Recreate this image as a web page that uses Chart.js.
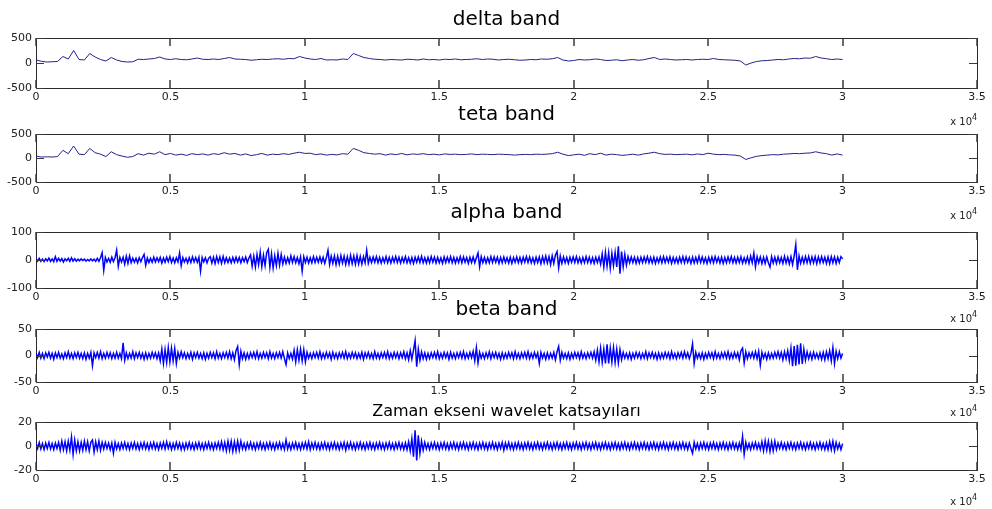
<!DOCTYPE html>
<html>
<head>
<meta charset="utf-8">
<script src="https://cdn.jsdelivr.net/npm/chart.js@4.4.0/dist/chart.umd.min.js"></script>
<style>
  html, body { margin: 0; padding: 0; background: #fff; }
  body { width: 992px; height: 509px; position: relative; overflow: hidden; }
  canvas { position: absolute; left: 0; }
</style>
</head>
<body>
<canvas id="delta"></canvas>
<canvas id="teta"></canvas>
<canvas id="alpha"></canvas>
<canvas id="beta"></canvas>
<canvas id="wavelet"></canvas>
<script>
// sample spacing of the stored series
const SLOW_STEP = 200;   // delta / teta
const FAST_STEP = 60;    // alpha / beta / wavelet

const xTickValues = [0, 5000, 10000, 15000, 20000, 25000, 30000, 35000];
const xTickLabels = ['0', '0.5', '1', '1.5', '2', '2.5', '3', '3.5'];

const deltaTicks = [-500, 0, 500];
const tetaTicks = [-500, 0, 500];
const alphaTicks = [-100, 0, 100];
const betaTicks = [-50, 0, 50];
const waveletTicks = [-20, 0, 20];

const delta = [
  60, 35, 20, 25, 30, 130, 80, 250, 70, 60,
  190, 120, 70, 40, 110, 60, 30, 20, 25, 75,
  70, 80, 90, 120, 80, 70, 85, 70, 65, 80,
  100, 75, 70, 80, 70, 90, 110, 80, 75, 70,
  55, 65, 75, 70, 80, 85, 75, 90, 85, 130,
  100, 80, 70, 90, 60, 65, 60, 80, 70, 190,
  150, 110, 90, 75, 70, 60, 70, 65, 60, 75,
  70, 60, 80, 65, 70, 60, 75, 70, 80, 65,
  70, 75, 85, 70, 80, 75, 60, 70, 75, 65,
  55, 60, 70, 65, 80, 75, 85, 110, 60, 40,
  50, 70, 60, 65, 80, 70, 50, 55, 65, 45,
  60, 70, 55, 65, 90, 110, 70, 80, 70, 60,
  65, 70, 60, 70, 75, 70, 90, 70, 65, 60,
  55, 40, -40, 0, 30, 45, 50, 60, 70, 65,
  80, 90, 85, 100, 95, 130, 100, 85, 70, 80,
  70
];

const teta = [
  40, 20, 25, 20, 30, 160, 90, 250, 80, 70,
  200, 110, 80, 30, 130, 70, 40, 15, 30, 90,
  60, 100, 80, 130, 70, 95, 60, 80, 55, 90,
  70, 85, 60, 90, 75, 110, 80, 95, 60, 85,
  50, 70, 95, 60, 80, 70, 90, 75, 100, 120,
  95, 100, 70, 85, 60, 75, 65, 90, 80, 200,
  160, 110, 95, 80, 90, 60, 85, 70, 95, 65,
  85, 75, 90, 70, 80, 65, 85, 75, 80, 70,
  75, 85, 70, 80, 75, 70, 80, 75, 70, 60,
  70, 75, 70, 80, 75, 80, 90, 120, 80, 50,
  65, 80, 55, 90, 70, 100, 60, 80, 70, 55,
  65, 80, 60, 85, 100, 120, 90, 75, 80, 70,
  75, 80, 65, 85, 70, 100, 80, 70, 75, 65,
  60, 40, -30, 5, 35, 50, 60, 70, 65, 80,
  85, 95, 90, 100, 105, 130, 105, 90, 60, 85,
  60
];

const alpha = [
  5, -4, 6, -5, 3, -6, 4, -3, 7, -5, 4, -6, 12, -5, 6, -4, 5, -7, 4, -3, 6, -5, 8, -4, 5,
  -4, 3, -3, 4, -2, 3, -4, 2, -3, 4, -3, 3, -5, 6, -5, 8, 26, -37, 9, -7, 6, -8, 10, -6, 8,
  35, -23, 9, -7, 10, -15, 14, -12, 15, -9, 7, -8, 6, -10, 8, -6, 9, 20, -19, 7, -9, 6, -8, 10, -7,
  8, -6, 9, -11, 7, -8, 10, -6, 12, -9, 7, -10, 8, -7, 25, -20, 9, -7, 6, -10, 8, -9, 11, -7, 9,
  -8, 10, -40, 9, -7, 8, -10, 6, 12, -11, 10, -13, 12, -9, 11, -12, 13, -10, 8, -9, 7, -10, 9, -8, 10,
  -7, 9, -10, 8, -6, 11, -9, 7, 18, -22, 14, -25, 20, -16, 28, -24, 17, -20, 26, 38, -26, 22, -28, 15, -20,
  24, -18, 20, -14, 10, -12, 8, -11, 15, -9, 12, -10, 9, -13, 11, -40, 12, -9, 10, -11, 8, -10, 12, -9, 10,
  -8, 11, -9, 10, -12, 9, 35, -16, 14, -12, 15, -17, 13, -15, 16, -11, 14, -16, 12, -15, 17, -13, 14, -15, 16,
  -14, 13, -15, 12, -10, 35, -12, 10, -9, 11, -8, 12, -10, 9, -11, 8, -9, 12, -10, 9, -11, 10, -8, 12, -9,
  10, -11, 9, -8, 12, -10, 8, -11, 9, -12, 10, -8, 11, -9, 13, -10, 8, -11, 9, -10, 12, -8, 10, -11, 9,
  -10, 8, -12, 11, -9, 10, -8, 12, -10, 9, -11, 8, -9, 12, -10, 11, -8, 9, -12, 10, -9, 11, -10, 8, 25,
  -24, 12, -10, 9, -11, 8, -10, 12, -9, 11, -8, 10, -12, 9, -10, 11, -9, 8, -11, 10, -12, 9, -8, 11, -10,
  9, -11, 10, -8, 12, -9, 11, -10, 8, -12, 10, -9, 11, -13, 12, -10, 14, -11, 12, -16, 15, -12, 18, 30, -28,
  14, -12, 11, -10, 9, -12, 10, -8, 11, -9, 12, -10, 8, -11, 9, -10, 12, -9, 10, -11, 8, -12, 10, -9, 11,
  -15, 22, -25, 28, -22, 26, -30, 24, -20, 27, -25, 49, -49, 30, -24, 20, -18, 12, -10, 11, -9, 10, -12, 9, -11,
  10, -9, 11, -8, 12, -10, 9, -11, 10, -12, 8, -9, 11, -10, 12, -9, 10, -8, 11, -12, 9, -10, 8, -11, 10,
  -9, 12, -10, 11, -8, 9, -12, 10, -11, 9, -10, 13, -9, 11, -10, 8, -12, 10, -9, 11, -10, 12, -8, 9, -11,
  10, -12, 9, -10, 11, -8, 12, -10, 9, -11, 10, -9, 12, -11, 8, -10, 11, -12, 14, -10, 25, -24, 12, -10, 11,
  -13, 10, -12, 11, -10, -25, 12, -11, 10, -12, 11, -10, 9, -12, 13, -11, 10, -14, 12, -16, 15, 55, -35, 15, -12,
  10, -11, 12, -10, 13, -12, 11, -10, 12, -13, 11, -10, 12, -9, 10, -12, 11, -13, 12, -10, 11, -12, 10, -9, 12,
  4
];

const beta = [
  5, -4, 6, -5, 4, -6, 5, -3, 6, -5, 4, -7, 5, -4, 6, -5, 3, -6, 5, -4, 7, -5, 4, -6, 5,
  -4, 6, -5, 4, -6, 5, -7, 4, -5, 6, -19, 5, -4, 6, -5, 7, -6, 4, -5, 6, -4, 5, -6, 4, -5,
  6, -5, 4, -6, 24, -9, 5, -6, 4, -5, 7, -6, 5, -4, 6, -5, 4, -7, 5, -6, 4, -5, 6, -4, 5,
  -6, 5, -10, 12, -15, 11, -13, 15, -12, 14, -10, 13, -15, 6, -5, 7, -4, 5, -6, 4, -5, 6, -7, 5, -4,
  6, -5, 4, -6, 5, -7, 4, -5, 6, -4, 5, -6, 7, -5, 4, -6, 5, -4, 6, -5, 7, -6, 5, -8, 9,
  17, -17, 8, -6, 5, -7, 4, -6, 5, -4, 6, -5, 7, -6, 4, -5, 6, -4, 5, -6, 7, -5, 4, -6, 5,
  -4, 6, -5, 7, -6, -17, 5, -6, 4, -7, 10, -12, 11, -9, 12, -10, 11, -12, 6, -5, 4, -6, 5, -4, 6,
  -5, 7, -6, 4, -5, 6, -4, 5, -7, 6, -5, 4, -6, 5, -4, 6, -5, 7, -6, 4, -5, 6, -4, 5, -6,
  4, -5, 6, -7, 5, -4, 6, -5, 4, -6, 7, -5, 4, -6, 5, -4, 6, -5, 7, -6, 4, -5, 6, -4, 5,
  -6, 5, -4, 7, -6, 5, -8, 9, -7, 10, 28, -21, 12, -9, 7, -6, 5, -7, 4, -6, 5, -4, 6, -5, 7,
  -6, 4, -5, 6, -4, 5, -7, 6, -5, 4, -6, 5, -4, 6, -5, 7, -6, 4, -5, 6, -4, 8, -10, 15, -14,
  6, -5, 4, -6, 5, -4, 7, -6, 5, -4, 6, -5, 4, -7, 5, -6, 4, -5, 6, -4, 5, -6, 7, -5, 4,
  -6, 5, -4, 6, -5, 7, -6, 4, -5, 6, -4, 5, -15, 6, -5, 4, -7, 5, -6, 4, -5, 6, -8, 7, 17,
  -9, 6, -5, 4, -6, 5, -7, 4, -5, 6, -4, 5, -6, 7, -5, 4, -6, 5, -4, 6, -5, 7, -9, 10, -12,
  14, -13, 12, -15, 21, -15, 14, -12, 15, -13, 12, -14, 11, -8, 6, -5, 4, -6, 5, -7, 4, -5, 6, -4, 5,
  -6, 4, -5, 7, -6, 5, -4, 6, -5, 4, -7, 5, -6, 4, -5, 6, -4, 5, -6, 7, -5, 4, -6, 5, -4,
  6, -5, 7, -4, 5, -6, 4, 22, -15, 6, -5, 4, -6, 5, -7, 4, -5, 6, -4, 5, -6, 7, -5, 4, -6,
  5, -4, 6, -5, 7, -6, 4, -5, 6, -4, 5, -8, 9, 14, -14, 7, -6, 5, -4, 6, -5, 7, -6, 8, -18,
  6, -5, 4, -7, 5, -6, 4, -5, 6, -4, 7, -5, 6, -8, 7, -6, 9, -10, 14, -20, 18, -19, 20, -17, 23,
  -16, 12, -9, 7, -6, 5, -7, 6, -5, 4, -6, 5, -7, 6, -8, 7, -6, 9, -10, 15, -15, 8, -6, 7, -5,
  4
];

const wavelet = [
  2.5, -2, 3, -2.5, 2, -3, 2.5, -2, 3, -2.5, 2, -3, 2.5, -2, 3, -3.5, 4, -3, 3.5, -4, 4, -3.5, 7.5, -7, 5,
  -4, 3.5, -4, 3, -3.5, 4, -3, 3.5, -4, 3, 5, -5, 3.5, -3, 4, -3.5, 3, -2.5, 3, -2, 2.5, -3, 2.5, -6, 3,
  -2.5, 2, -3, 2.5, -2, 3, -2.5, 2, -3, 2.5, -2, 3, -2.5, 2, -3, 2.5, -2, 3, -2.5, 2, -3, 2.5, -2, 3, -2.5,
  2, -3, 2.5, -2, 3, -2.5, 3.5, -2, 2.5, -3, 2, -2.5, 3, -2, 2.5, -3, 2, -3, 2.5, -2, 3, -2.5, 2, -3, 2.5,
  -2, 3, -2.5, 2, -3, 2.5, -2, 3, -2.5, 2, -3, 2.5, -2, 3, -2.5, 3.5, -3, 3, -4, 4, -3.5, 4, -4.5, 3.5, -4,
  4, -3.5, 4, -2.5, 2, -3, 2.5, -2, 3, -2.5, 2, -3, 2.5, -2, 3, -2.5, 2, -3, 2.5, -2, 3, -2.5, 2, -3, 2.5,
  -2, 3, -2.5, 2, -3, 5, -2.5, 2, -3, 2.5, -2, 3, -2.5, 2, -3, 2.5, -2, 3, -2.5, 3.5, -3, 2.5, -2, 3, -2.5,
  2, -3, 2.5, -2, 3, -2.5, 2, -3, 2.5, -2, 3, -2.5, 2, -3, 2.5, -2, 3, -3.5, 2.5, -2, 3, -2.5, 2, -3, 2.5,
  -2, 3, -2.5, 2, -3, 2.5, -2, 3, -2.5, 2, -3, 2.5, -2, 3, -2.5, 2, -3, 2.5, -2, 3, -2.5, 2, -3, 2.5, -2,
  3, -2.5, 2, -3, 2.5, -3, 3.5, -4, 6, -9, 13, -12, 9, -6, 4, -3.5, 3, -2.5, 2, -3, 2.5, -2, 3, -2.5, 2,
  -3, 2.5, -2, 3, -2.5, 2, -3, 2.5, -2, 3, -2.5, 2, -3, 2.5, -2, 3, -2.5, 2, -3, 2.5, -2, 3, -2.5, 2, -3,
  2.5, -2, 3, -2.5, 2, -3, 2.5, -2, 3, -2.5, 2, -3, 2.5, -2, 3, -3.5, 2.5, -2, 3, -2.5, 2, -3, 2.5, -2, 3,
  -2.5, 2, -3, 2.5, -2, 3, -2.5, 2, -3, 2.5, -2, 3, -2.5, 2, -3, 2.5, -2, 3, -2.5, 2, -3, 2.5, -2, 3, -2.5,
  2, -3, 2.5, -2, 3, -2.5, 2, -3, 2.5, -2, 3, -2.5, 2, -3, 2.5, -2, 3, -2.5, 2, -3, 2.5, -2, 3, -2.5, 2,
  -3, 2.5, -2, 3, -2.5, 2, -3, 2.5, -2, 3, -2.5, 2, -3, 2.5, -2, 3, -2.5, 2, -3, 2.5, -2, 3, -2.5, 2, -3,
  2.5, -2, 3, -2.5, 2, -3, 2.5, -2, 3, -2.5, 2, -3, 2.5, -2, 3, -2.5, 2, -3, 2.5, -2, 3, -2.5, 2, -3, 2.5,
  -2, 3, -2.5, 2, -3, 2.5, -2, -6, 3, -2.5, 2, -3, 2.5, -2, 3, -2.5, 2, -3, 2.5, -2, 3, -2.5, 2, -3, 2.5,
  -2, 3, -2.5, 2, -3, 2.5, -2, 3, -2.5, 2, -3, 2.5, -3, 8, -7, 3, -2.5, 2, -3, 2.5, -2, 3, -2.5, 2, -3,
  3.5, -4, 4.5, -3.5, 4, -4.5, 3.5, -4, 4, -3, 2.5, -2, 3, -2.5, 2, -3, 2.5, -2, 3, -2.5, 2, -3, 2.5, -2, 3,
  -2.5, 2, -3, 2.5, -2, 3, -2.5, 2, -3, 2.5, -2, 3, -2.5, 2, -3, 2.5, -3, 3.5, -3, 4, -4, 3, -2.5, 2, -3,
  2
];

const FONT = '"DejaVu Sans", sans-serif';
const BOX = '#2a2a2a';
const TICK = '#3a3a3a';
const LABEL = '#222';
const TICK_LEN = 8;

// axes placement (px) for each subplot
const panels = [
  { id: 'delta', title: 'delta band', values: delta, step: SLOW_STEP, yTicks: deltaTicks,
    color: '#23238a', width: 1, top: 38, bottom: 88, titleSize: 20, titleY: 20, expY: 37 },
  { id: 'teta', title: 'teta band', values: teta, step: SLOW_STEP, yTicks: tetaTicks,
    color: '#23238a', width: 1, top: 134, bottom: 182, titleSize: 20, titleY: 115, expY: 37 },
  { id: 'alpha', title: 'alpha band', values: alpha, step: FAST_STEP, yTicks: alphaTicks,
    color: '#0000ff', width: 1.5, top: 232, bottom: 288, titleSize: 20, titleY: 213, expY: 34 },
  { id: 'beta', title: 'beta band', values: beta, step: FAST_STEP, yTicks: betaTicks,
    color: '#0000ff', width: 1.5, top: 329, bottom: 382, titleSize: 20, titleY: 310, expY: 34 },
  { id: 'wavelet', title: 'Zaman ekseni wavelet katsayıları', values: wavelet, step: FAST_STEP, yTicks: waveletTicks,
    color: '#0000ff', width: 1.5, top: 422, bottom: 470, titleSize: 16, titleY: 412, expY: 35 }
];

const noGrid = { display: false, drawTicks: false };
const borderStyle = { color: BOX, width: 1 };

function xAxis(position, showLabels) {
  return {
    type: 'linear', position: position, min: 0, max: 35000,
    afterBuildTicks: s => { s.ticks = xTickValues.map(v => ({ value: v })); },
    afterFit: s => { s.height = showLabels ? 40 : 0; },
    grid: noGrid,
    border: borderStyle,
    ticks: {
      display: showLabels, autoSkip: false, maxRotation: 0, padding: 3,
      color: LABEL, font: { family: FONT, size: 11 },
      callback: (v, i) => xTickLabels[i]
    }
  };
}

function yAxis(position, showLabels, values) {
  return {
    type: 'linear', position: position, min: values[0], max: values[values.length - 1],
    afterBuildTicks: s => { s.ticks = values.map(v => ({ value: v })); },
    afterFit: s => { s.width = showLabels ? 36 : 0; },
    grid: noGrid,
    border: borderStyle,
    ticks: {
      display: showLabels, padding: 4,
      color: LABEL, font: { family: FONT, size: 11 },
      callback: v => String(v)
    }
  };
}

// tick marks pointing into the plot box, on all four sides
const innerTicks = {
  id: 'innerTicks',
  afterDraw(chart) {
    const ctx = chart.ctx;
    const a = chart.chartArea;
    const sx = chart.scales.x;
    const sy = chart.scales.y;
    ctx.save();
    ctx.strokeStyle = TICK;
    ctx.lineWidth = 1.5;
    sx.ticks.forEach(t => {
      const px = Math.round(sx.getPixelForValue(t.value));
      ctx.beginPath();
      ctx.moveTo(px, a.top);
      ctx.lineTo(px, a.top + TICK_LEN);
      ctx.stroke();
      ctx.beginPath();
      ctx.moveTo(px, a.bottom);
      ctx.lineTo(px, a.bottom - TICK_LEN);
      ctx.stroke();
    });
    ctx.lineWidth = 1;
    sy.ticks.forEach(t => {
      const py = Math.round(sy.getPixelForValue(t.value)) + 0.5;
      ctx.beginPath();
      ctx.moveTo(a.left, py);
      ctx.lineTo(a.left + TICK_LEN, py);
      ctx.moveTo(a.right, py);
      ctx.lineTo(a.right - TICK_LEN, py);
      ctx.stroke();
    });
    ctx.restore();
  }
};

// "x 10^4" multiplier under the right end of the x axis
const exponentLabel = offset => ({
  id: 'exponentLabel',
  afterDraw(chart) {
    const { ctx, chartArea } = chart;
    ctx.save();
    ctx.fillStyle = LABEL;
    ctx.textAlign = 'right';
    ctx.textBaseline = 'alphabetic';
    ctx.font = '10px ' + FONT;
    ctx.fillText('x 10', chartArea.right - 5, chartArea.bottom + offset);
    ctx.font = '8px ' + FONT;
    ctx.fillText('4', chartArea.right, chartArea.bottom + offset - 5);
    ctx.restore();
  }
});

panels.forEach(p => {
  const canvasTop = Math.round(p.titleY - p.titleSize * 0.6);
  const titleGap = p.top - canvasTop - p.titleSize * 1.2;
  const el = document.getElementById(p.id);
  el.width = 992;
  el.height = p.bottom + 40 - canvasTop;
  el.style.top = canvasTop + 'px';

  const points = p.values.map((v, i) => ({ x: i * p.step, y: v }));

  new Chart(el, {
    type: 'line',
    data: {
      datasets: [{
        data: points,
        borderColor: p.color,
        borderWidth: p.width,
        pointRadius: 0,
        tension: 0,
        fill: false
      }]
    },
    options: {
      responsive: false,
      animation: false,
      events: [],
      layout: { padding: { left: 0, right: 15, top: 0, bottom: 0 } },
      plugins: {
        legend: { display: false },
        tooltip: { enabled: false },
        title: {
          display: true, fullSize: false, text: p.title, color: '#000',
          font: { family: FONT, size: p.titleSize, weight: 'normal' },
          padding: { top: 0, bottom: titleGap }
        }
      },
      scales: {
        x: xAxis('bottom', true),
        xTop: xAxis('top', false),
        y: yAxis('left', true, p.yTicks),
        yRight: yAxis('right', false, p.yTicks)
      }
    },
    plugins: [innerTicks, exponentLabel(p.expY)]
  });
});
</script>
</body>
</html>
